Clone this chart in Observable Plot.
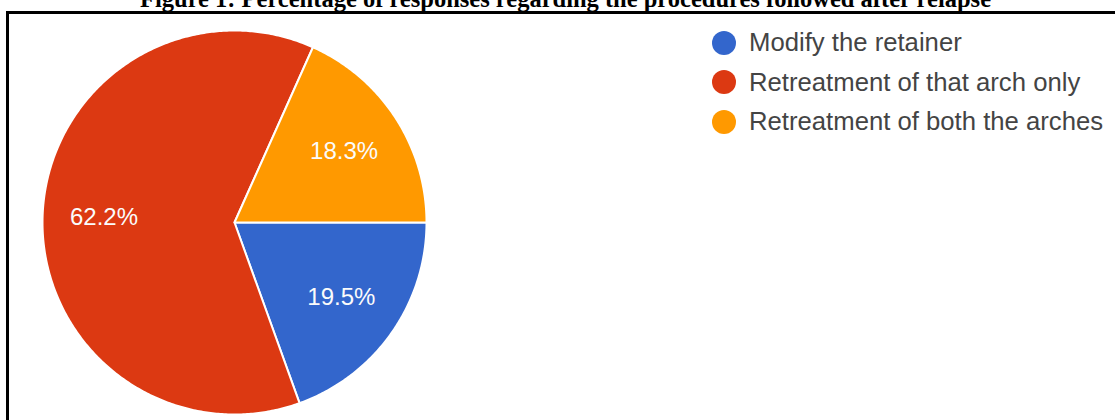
<!DOCTYPE html>
<html><head><meta charset="utf-8">
<script src="https://cdn.jsdelivr.net/npm/d3@7"></script>
<script src="https://cdn.jsdelivr.net/npm/@observablehq/plot@0.6"></script>
<style>
html,body{margin:0;padding:0;background:#fff;overflow:hidden;width:1115px;height:420px;}
#wrap{position:relative;width:1115px;height:420px;overflow:hidden;}
#title{position:absolute;left:8px;width:1115px;top:-13.5px;text-align:center;font:bold 24.5px "Liberation Serif","Times New Roman",serif;line-height:24.5px;color:#000;white-space:nowrap;}
#frame{position:absolute;left:6px;top:11px;width:1200px;height:600px;border:3px solid #000;}
#chart{position:absolute;left:0;top:0;}
#legend{position:absolute;left:712px;top:23px;font:25.7px "Liberation Sans",Arial,sans-serif;color:#444;}
.row{display:flex;align-items:center;height:39.5px;white-space:nowrap;}
.sw{width:24px;height:24px;border-radius:50%;margin-right:13px;flex:none;}
</style></head>
<body>
<div id="wrap">
  <div id="chart"></div>
  <div id="frame"></div>
  <div id="title"></div>
  <div id="legend"></div>
</div>
<script>
const title = "Figure 1: Percentage of responses regarding the procedures followed after relapse";
const categories = ["Modify the retainer", "Retreatment of that arch only", "Retreatment of both the arches"];
const values = [19.5, 62.2, 18.3];
const labels = ["19.5%", "62.2%", "18.3%"];
const colors = ["#3366cc", "#dc3912", "#ff9900"];

document.getElementById("title").textContent = title;

const rows = categories.map((c, i) => ({cat: c, value: values[i], label: labels[i]}));
const arcs = d3.pie().sort(null).value(d => d.value)
  .startAngle(Math.PI / 2).endAngle(Math.PI / 2 + 2 * Math.PI)(rows);

// slice outlines in unit-circle coordinates (angle measured clockwise from top)
const pts = [];
const lab = [];
for (const a of arcs) {
  const n = Math.max(2, Math.ceil((a.endAngle - a.startAngle) / 0.01));
  pts.push({cat: a.data.cat, x: 0, y: 0});
  for (let k = 0; k <= n; k++) {
    const t = a.startAngle + (a.endAngle - a.startAngle) * k / n;
    pts.push({cat: a.data.cat, x: Math.sin(t), y: Math.cos(t)});
  }
  const m = (a.startAngle + a.endAngle) / 2;
  lab.push({label: a.data.label, x: 0.68 * Math.sin(m), y: 0.68 * Math.cos(m)});
}

const chart = Plot.plot({
  width: 1115, height: 420,
  marginLeft: 42, marginRight: 689, marginTop: 30, marginBottom: 6,
  x: {domain: [-1, 1], axis: null},
  y: {domain: [-1, 1], axis: null},
  color: {domain: categories, range: colors},
  style: {background: "transparent"},
  marks: [
    Plot.line(pts, {x: "x", y: "y", z: "cat", fill: "cat", stroke: "white", strokeWidth: 2, curve: "linear-closed"}),
    Plot.text(lab, {x: "x", y: "y", text: "label", fill: "#fbfbfb", fontSize: 24, fontFamily: "'Liberation Sans', Arial, sans-serif"})
  ]
});
document.getElementById("chart").appendChild(chart);

const legend = document.getElementById("legend");
categories.forEach((c, i) => {
  const r = document.createElement("div");
  r.className = "row";
  const s = document.createElement("span");
  s.className = "sw";
  s.style.background = colors[i];
  const t = document.createElement("span");
  t.textContent = c;
  r.appendChild(s); r.appendChild(t);
  legend.appendChild(r);
});
</script>
</body></html>
